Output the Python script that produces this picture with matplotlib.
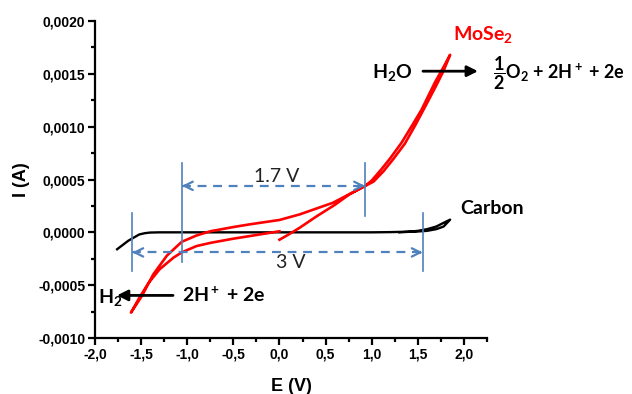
import matplotlib
matplotlib.use("Agg")
import matplotlib.pyplot as plt
from matplotlib.ticker import MultipleLocator, FuncFormatter

plt.rcParams['mathtext.fontset'] = 'custom'
plt.rcParams['mathtext.rm'] = 'Lato:bold'
plt.rcParams['mathtext.it'] = 'Lato:bold'
plt.rcParams['mathtext.bf'] = 'Lato:bold'
plt.rcParams['mathtext.sf'] = 'Lato:bold'

# carbon CV (black)
carbon_E = [-1.76, -1.70, -1.64, -1.58, -1.52, -1.46, -1.40, -1.30, -1.0, -0.5, 0.0, 0.5,
            1.0, 1.2, 1.35, 1.5, 1.6, 1.7, 1.78, 1.85,
            1.78, 1.70, 1.60, 1.50, 1.40, 1.30]
carbon_I = [-0.00016, -0.00012, -0.00008, -0.00005, -0.00002, -0.000008, -0.000002, 0.0, 0.0, 0.0, 0.0, 0.0,
            0.0, 0.000002, 0.000005, 0.000008, 0.000014, 0.00003, 0.000055, 0.00012,
            0.00009, 0.000055, 0.00003, 0.000014, 0.000005, 0.0]

# MoSe2 CV (red)
mose2_E = [0.0, -0.32, -0.5, -0.75, -0.9, -1.06, -1.15, -1.30, -1.42, -1.52, -1.61,
           -1.55, -1.49, -1.37, -1.22, -1.06, -0.90, -0.75, -0.5, -0.32, 0.0, 0.22, 0.58, 0.93,
           1.0, 1.108, 1.2, 1.325, 1.43, 1.54, 1.686, 1.77, 1.85,
           1.78, 1.70, 1.58, 1.47, 1.36, 1.24, 1.13, 1.02, 0.93,
           0.76, 0.60, 0.40, 0.22, 0.10, 0.0]
mose2_I = [0.00001, -0.000035, -0.00006, -0.0001, -0.00013, -0.00019, -0.00024, -0.00035, -0.00048, -0.00062, -0.00076,
           -0.00068, -0.0006, -0.0004, -0.00022, -0.00009, -0.00003, 0.00001, 0.00005, 0.000076, 0.000117, 0.00017, 0.00028, 0.00044,
           0.00049, 0.0006, 0.0007, 0.00085, 0.001, 0.00116, 0.00142, 0.00155, 0.00168,
           0.00153, 0.00139, 0.00119, 0.00101, 0.00084, 0.0007, 0.00058, 0.00048, 0.00044,
           0.00036, 0.00026, 0.00015, 0.000044, -0.00002, -0.00007]

blue = '#4f81bd'
tickfont = dict(family='Liberation Sans', weight='bold', size=10)

fig = plt.figure(figsize=(6.32, 3.94), dpi=100)
ax = fig.add_axes([95 / 632, 1 - 338 / 394, 392 / 632, 317 / 394])

ax.plot(carbon_E, carbon_I, color='black', lw=1.7)
ax.plot(mose2_E, mose2_I, color='red', lw=1.9)

# window markers
for x0, y0, y1 in [(-1.057, -0.00028, 0.00066), (0.927, 0.000154, 0.00066),
                   (-1.595, -0.00037, 0.000187), (1.552, -0.00037, 0.000187)]:
    ax.plot([x0, x0], [y0, y1], color=blue, lw=1.2)

for xa, xb, yy in [(-1.057, 0.927, 0.00044), (-1.595, 1.552, -0.00019)]:
    ax.plot([xa, xb], [yy, yy], color=blue, lw=1.6, dashes=(4, 3))
    ax.annotate('', xy=(xa, yy), xytext=(xa + 0.05, yy),
                arrowprops=dict(arrowstyle='->', color=blue, lw=1.6, mutation_scale=15,
                                shrinkA=0, shrinkB=0))
    ax.annotate('', xy=(xb, yy), xytext=(xb - 0.05, yy),
                arrowprops=dict(arrowstyle='->', color=blue, lw=1.6, mutation_scale=15,
                                shrinkA=0, shrinkB=0))

ax.text(-0.027, 0.00053, '1.7 V', family='Lato', fontsize=14, ha='center', va='center', color='#222222')
ax.text(0.125, -0.000284, '3 V', family='Lato', fontsize=14, ha='center', va='center', color='#222222')

# reaction arrows
ax.annotate('', xy=(2.152, 0.001525), xytext=(1.556, 0.001525),
            arrowprops=dict(arrowstyle='-|>', color='black', lw=2, mutation_scale=16,
                            shrinkA=0, shrinkB=0))
ax.annotate('', xy=(-1.762, -0.000597), xytext=(-1.154, -0.000597),
            arrowprops=dict(arrowstyle='-|>', color='black', lw=2, mutation_scale=16,
                            shrinkA=0, shrinkB=0))

lab = dict(family='Lato', weight='bold', fontsize=14, va='center', clip_on=False)
ax.text(1.881, 0.00187, 'MoSe$_2$', color='red', ha='left', **lab)
ax.text(1.447, 0.00151, 'H$_2$O', color='black', ha='right', **lab)
ax.text(2.314, 0.00151, r'$\dfrac{1}{2}$O$_2$ + 2H$^+$ + 2e', color='black', ha='left',
        family='Lato', weight='bold', fontsize=13, va='center', clip_on=False)
ax.text(1.96, 0.000227, 'Carbon', color='black', ha='left', **lab)
ax.text(-1.967, -0.00062, 'H$_2$', color='black', ha='left', **lab)
ax.text(-1.057, -0.0006, '2H$^+$ + 2e', color='black', ha='left', **lab)

ax.set_xlim(-2.0, 2.25)
ax.set_ylim(-0.001, 0.002)
ax.xaxis.set_major_locator(MultipleLocator(0.5))
ax.xaxis.set_minor_locator(MultipleLocator(0.25))
ax.yaxis.set_major_locator(MultipleLocator(0.0005))
ax.yaxis.set_minor_locator(MultipleLocator(0.00025))


def fmt(d):
    def f(v, pos):
        if abs(v) < 1e-12:
            v = 0.0
        return f'{v:.{d}f}'.replace('.', ',')
    return FuncFormatter(f)


ax.xaxis.set_major_formatter(fmt(1))
ax.yaxis.set_major_formatter(fmt(4))

for s in ['top', 'right']:
    ax.spines[s].set_visible(False)
for s in ['left', 'bottom']:
    ax.spines[s].set_linewidth(1.6)
ax.tick_params(which='major', direction='out', length=5, width=1.6, pad=2)
ax.tick_params(which='minor', direction='out', length=3, width=1.6)
for t in ax.get_xticklabels() + ax.get_yticklabels():
    t.set_fontproperties(matplotlib.font_manager.FontProperties(**tickfont))

ax.set_xlabel('E (V)', family='Liberation Sans', weight='bold', fontsize=13, labelpad=12)
ax.set_ylabel('I (A)', family='Liberation Sans', weight='bold', fontsize=13, labelpad=6)

fig.savefig('out.png', dpi=100)
